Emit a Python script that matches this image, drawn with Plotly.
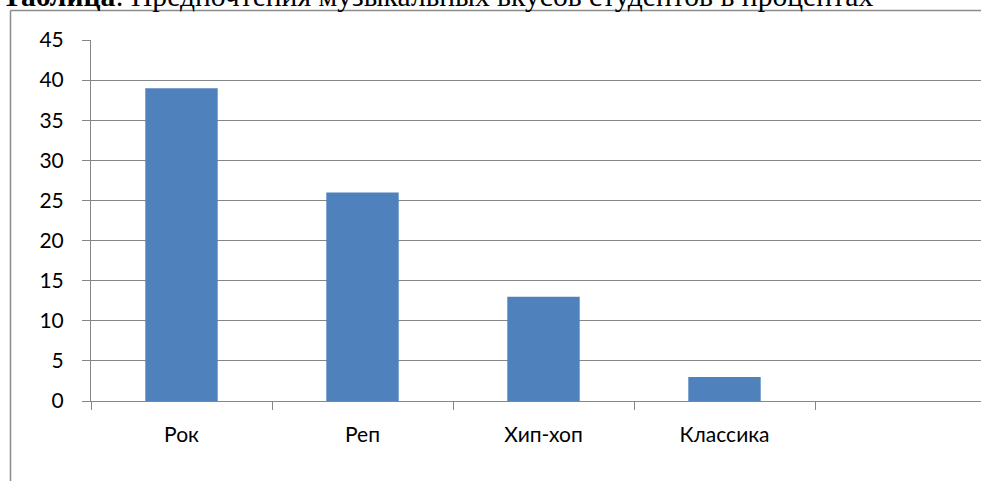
import plotly.graph_objects as go

# Survey data: share of students preferring each music genre, %
categories = ["Рок", "Реп", "Хип-хоп", "Классика", " "]
shares = [39, 26, 13, 3, None]
y_ticks = [0, 5, 10, 15, 20, 25, 30, 35, 40, 45]

W, H = 981, 481
L, R, T, B = 91, 0, 40, 80
plot_w = W - L - R
plot_h = H - T - B

def px_x(p):
    return (p - L) / plot_w

def px_y(p):
    return (H - B - p) / plot_h

grid = "#868686"
label_font = dict(family="Lato, 'Noto Sans', sans-serif", size=21, color="#000000")

fig = go.Figure(
    go.Bar(
        x=categories,
        y=shares,
        marker=dict(color="#4F81BD", line=dict(width=0)),
        width=0.4,
        hoverinfo="x+y",
    )
)

# category slot is ~181 px wide; the last slot runs past the right edge
slot = 181.0
fig.update_xaxes(
    type="category",
    range=[-0.5, -0.5 + plot_w / slot],
    tickson="boundaries",
    ticks="outside",
    ticklen=8,
    tickcolor=grid,
    tickwidth=1,
    showline=True,
    linecolor=grid,
    linewidth=1,
    showgrid=False,
    tickfont=label_font,
    ticklabelstandoff=15,
    fixedrange=True,
)
fig.update_yaxes(
    range=[0, 45],
    tickvals=y_ticks,
    ticks="outside",
    ticklen=8,
    tickcolor=grid,
    tickwidth=1,
    showline=True,
    linecolor=grid,
    linewidth=1,
    showgrid=True,
    gridcolor=grid,
    gridwidth=1,
    zeroline=False,
    tickfont=label_font,
    ticklabelstandoff=14,
    fixedrange=True,
)

# outer frame of the chart (left and top edges)
fig.add_shape(type="line", xref="paper", yref="paper",
              x0=px_x(10.5), x1=px_x(10.5), y0=px_y(10.5), y1=px_y(H + 5),
              line=dict(color="#8c8c8c", width=1.5))
fig.add_shape(type="line", xref="paper", yref="paper",
              x0=px_x(10.5), x1=px_x(W + 5), y0=px_y(10.5), y1=px_y(10.5),
              line=dict(color="#8c8c8c", width=1.5))

# heading above the frame
fig.add_annotation(
    xref="paper", yref="paper",
    x=px_x(0), y=px_y(14), xanchor="left", yanchor="bottom",
    text="<b>Таблица</b>: Предпочтения музыкальных вкусов студентов в процентах",
    showarrow=False,
    font=dict(family="'Liberation Serif', 'Times New Roman', serif", size=29.6, color="#000000"),
)

fig.update_layout(
    width=W,
    height=H,
    margin=dict(l=L, r=R, t=T, b=B),
    paper_bgcolor="#ffffff",
    plot_bgcolor="#ffffff",
    showlegend=False,
    bargap=0.6,
)

fig.write_html("out.html", config={"displayModeBar": False})
